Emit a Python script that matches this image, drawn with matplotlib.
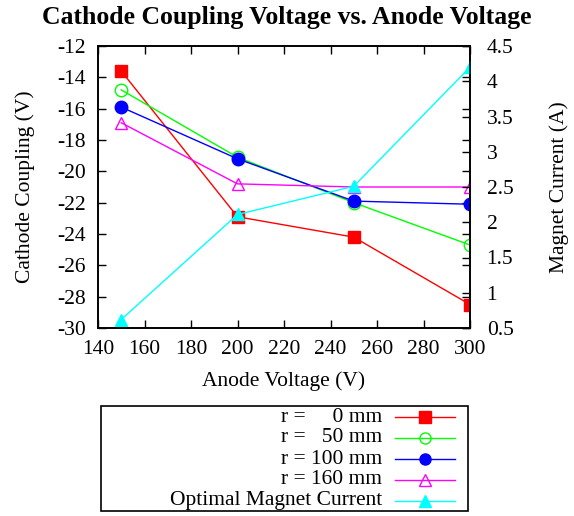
import matplotlib
matplotlib.use("Agg")
import matplotlib.pyplot as plt
from matplotlib.lines import Line2D
from matplotlib.patches import Rectangle

plt.rcParams['font.family'] = ['Liberation Serif', 'DejaVu Serif']
plt.rcParams['axes.unicode_minus'] = False

anode_v = [150, 200, 250, 300]
coupling_r0 = [-13.6, -22.9, -24.2, -28.5]
coupling_r50 = [-14.8, -19.1, -22.0, -24.7]
coupling_r100 = [-15.9, -19.2, -21.9, -22.1]
coupling_r160 = [-16.9, -20.8, -21.0, -21.0]
magnet_current = [0.62, 2.11, 2.51, 4.2]

labels = ["r =     0 mm", "r =   50 mm", "r = 100 mm", "r = 160 mm",
          "Optimal Magnet Current"]

styles = [
    dict(color='#ff0000', marker='s', mfc='#ff0000'),
    dict(color='#00ff00', marker='o', mfc='none'),
    dict(color='#0000ff', marker='o', mfc='#0000ff'),
    dict(color='#ff00ff', marker='^', mfc='none'),
    dict(color='#00ffff', marker='^', mfc='#00ffff'),
]
ms = 9
fs = 15.5

fig = plt.figure(figsize=(5.74, 5.16), dpi=100)
ax = fig.add_axes([98 / 574, 1 - 328 / 516, 372 / 574, 282 / 516])
ax2 = ax.twinx()

series = [coupling_r0, coupling_r50, coupling_r100, coupling_r160]
for vals, st in zip(series, styles):
    ax.plot(anode_v, vals, lw=1.0, ms=ms, mew=1.0, mec=st['color'], **st)
ax2.plot(anode_v, magnet_current, lw=1.0, ms=ms, mew=1.0,
         mec=styles[4]['color'], **styles[4])

ax.set_xlim(140, 300)
ax.set_ylim(-30, -12)
ax2.set_ylim(0.5, 4.5)
ax.set_xticks(range(140, 301, 20))
ax.set_yticks(range(-30, -11, 2))
ax2.set_yticks([0.5, 1, 1.5, 2, 2.5, 3, 3.5, 4, 4.5])
ax2.set_yticklabels(['0.5', '1', '1.5', '2', '2.5', '3', '3.5', '4', '4.5'])

ax.tick_params(axis='x', direction='in', length=6, width=1, labelsize=fs,
               top=True, pad=9)
ax.tick_params(axis='y', direction='in', length=6, width=1, labelsize=fs,
               right=True, pad=9)
ax2.tick_params(direction='in', length=6, width=1, labelsize=fs, pad=12)
for a in (ax, ax2):
    for s in a.spines.values():
        s.set_linewidth(1.2)

ax.set_xlabel("Anode Voltage (V)", fontsize=fs)
ax.set_ylabel("Cathode Coupling (V)", fontsize=fs)
ax2.set_ylabel("Magnet Current (A)", fontsize=fs)
ax.xaxis.set_label_coords(0.5, -0.152)
ax.yaxis.set_label_coords(-0.169, 0.5)
ax2.yaxis.set_label_coords(1.212, 0.5)
fig.text(0.5, 1 - 17 / 516, "Cathode Coupling Voltage vs. Anode Voltage",
         ha='center', va='center', fontsize=18.5, fontweight='bold')

# key box below the plot
lax = fig.add_axes([0, 0, 1, 1], facecolor='none')
lax.set_xlim(0, 574)
lax.set_ylim(516, 0)
lax.axis('off')
lax.add_patch(Rectangle((101, 406), 367, 105, fill=False, lw=1.2,
                        edgecolor='black'))
row_y = [417, 438, 459, 480, 501]
for lab, st, y in zip(labels, styles, row_y):
    lax.text(382, y, lab, ha='right', va='center', fontsize=fs)
    lax.add_line(Line2D([395, 455], [y, y], lw=1.0, color=st['color']))
    lax.add_line(Line2D([425], [y], lw=0, marker=st['marker'], ms=ms - 1,
                        mfc=st['mfc'], mec=st['color'], mew=1.0))

fig.savefig("out.png", dpi=100)
